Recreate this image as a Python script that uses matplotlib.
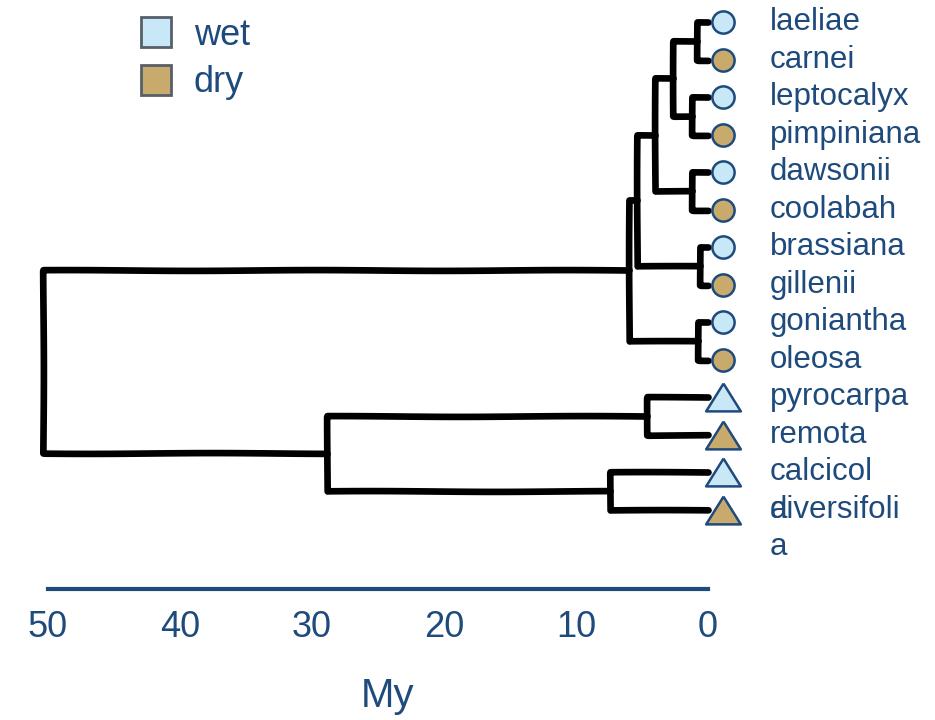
import matplotlib
matplotlib.use("Agg")
import matplotlib.pyplot as plt
from matplotlib.lines import Line2D
from matplotlib.transforms import ScaledTranslation

# tips, top to bottom
tip_ids = ["laeliae", "carnei", "leptocalyx", "pimpiniana", "dawsonii", "coolabah",
           "brassiana", "gillenii", "goniantha", "oleosa", "pyrocarpa", "remota",
           "calcicola", "diversifolia"]
tip_labels = ["laeliae", "carnei", "leptocalyx", "pimpiniana", "dawsonii", "coolabah",
              "brassiana", "gillenii", "goniantha", "oleosa", "pyrocarpa", "remota",
              "calcicol\na", "diversifoli\na"]
habitat = ["wet", "dry", "wet", "dry", "wet", "dry", "wet", "dry",
           "wet", "dry", "wet", "dry", "wet", "dry"]
tip_group = ["circle"] * 10 + ["triangle"] * 4

# internal nodes (age in My)
node_ids = ["A", "B", "C", "D", "E", "F", "G", "H", "I", "J", "K", "L", "root"]
child_a = ["laeliae", "leptocalyx", "A", "dawsonii", "C", "brassiana", "E",
           "goniantha", "G", "pyrocarpa", "calcicola", "J", "I"]
child_b = ["carnei", "pimpiniana", "B", "coolabah", "D", "gillenii", "F",
           "oleosa", "H", "remota", "diversifolia", "K", "L"]
node_age = [0.83, 1.2, 2.65, 1.2, 4.0, 0.6, 5.4, 0.75, 6.0, 4.6, 7.4, 28.9, 50.4]

scale_ticks = [50, 40, 30, 20, 10, 0]

text_col = "#1f4a7c"
fill = {"wet": "#c8e8f8", "dry": "#c8ab6c"}
legend_edge = "#56606a"

fig = plt.figure(figsize=(9.35, 7.2), dpi=100)
ax = fig.add_axes([0, 0, 1, 1])
ax.set_xlim(53.64, -17.2)
ax.set_ylim(18.61, -0.587)

xpos = {}
ypos = {}
for i, t in enumerate(tip_ids):
    xpos[t] = 0.0
    ypos[t] = i
for n, a, b, age in zip(node_ids, child_a, child_b, node_age):
    xpos[n] = age
    ypos[n] = (ypos[a] + ypos[b]) / 2

for n, a, b in zip(node_ids, child_a, child_b):
    ln, = ax.plot([xpos[a], xpos[n], xpos[n], xpos[b]],
                  [ypos[a], ypos[a], ypos[b], ypos[b]],
                  color="black", lw=4.8, solid_joinstyle="round",
                  solid_capstyle="round", zorder=2)
    ln.set_sketch_params(0.4, 250, 1)

# markers sit a little right of the tips
shift = ax.transData + ScaledTranslation(0.15, 0, fig.dpi_scale_trans)
tri = [(0, 0.8), (-1, -0.8), (1, -0.8), (0, 0.8)]
for i, t in enumerate(tip_ids):
    if tip_group[i] == "circle":
        ax.plot(0, i, marker="o", ms=16, mfc=fill[habitat[i]], mec=text_col,
                mew=1.8, transform=shift, zorder=3)
    else:
        ax.plot(0, i, marker=tri, ms=25, mfc=fill[habitat[i]], mec=text_col,
                mew=1.8, transform=shift, zorder=3)

for i, lab in enumerate(tip_labels):
    for k, part in enumerate(lab.split("\n")):
        ax.annotate(part, xy=(0, i + k), xytext=(44.6, 0), textcoords="offset points",
                    va="center", ha="left", fontsize=22.5, color=text_col,
                    family="Liberation Sans")

# time scale
for s in ["top", "left", "right"]:
    ax.spines[s].set_visible(False)
ax.spines["bottom"].set_position(("data", 15.13))
ax.spines["bottom"].set_bounds(0, 50)
ax.spines["bottom"].set_color(text_col)
ax.spines["bottom"].set_linewidth(3)
ax.set_xticks(scale_ticks)
ax.set_xticklabels([str(v) for v in scale_ticks], family="Liberation Sans")
ax.tick_params(axis="x", length=0, pad=15, labelsize=26, labelcolor=text_col)
ax.set_yticks([])
ax.text(387 / 935, 1 - 707 / 720, "My", transform=ax.transAxes, ha="center",
        va="baseline", fontsize=29, color=text_col, family="Liberation Sans")

handles = [Line2D([], [], ls="", marker="s", ms=22, mfc=fill[h], mec=legend_edge,
                  mew=2, label=h) for h in ["wet", "dry"]]
leg = ax.legend(handles=handles, loc="upper left", bbox_to_anchor=(138 / 935, 1 - 18 / 720),
                frameon=False, handlelength=1.0, handletextpad=0.55, borderpad=0,
                borderaxespad=0, labelspacing=0.34,
                prop={"family": "Liberation Sans", "size": 26})
for txt in leg.get_texts():
    txt.set_color(text_col)

fig.savefig("out.png", dpi=100)
